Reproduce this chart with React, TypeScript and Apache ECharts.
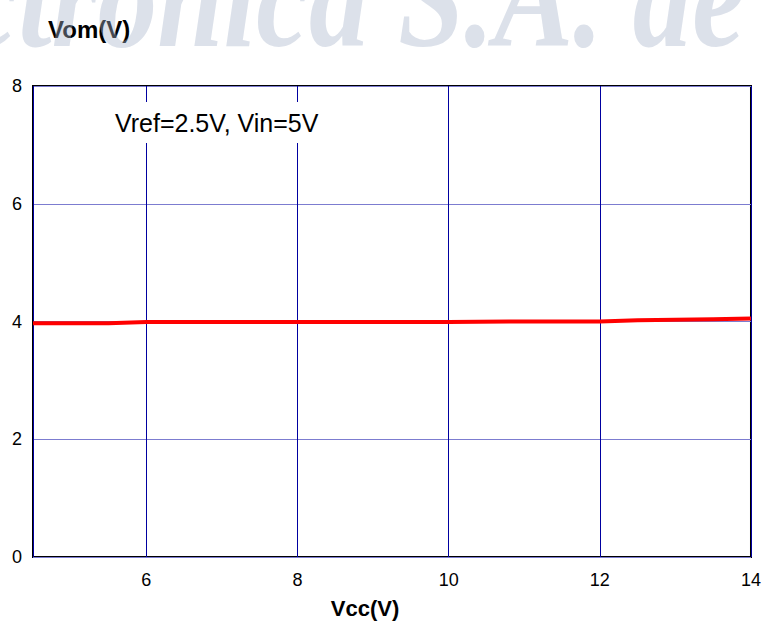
import React, { useEffect, useRef } from "react";
import * as echarts from "echarts";

const vcc = [4.5, 5.5, 6, 7, 8, 9, 10, 10.8, 12, 12.5, 13.5, 14];
const vom = [3.97, 3.97, 3.99, 3.99, 3.99, 3.99, 3.99, 4.0, 4.0, 4.02, 4.04, 4.05];
const yTicks = [0, 2, 4, 6, 8];

const xName = "Vcc(V)";
const yName = "Vom(V)";
const note = "Vref=2.5V, Vin=5V";
const watermark = "Electrónica S.A. de";

export default function App() {
  const ref = useRef<HTMLDivElement>(null);
  useEffect(() => {
    if (!ref.current) return;
    const chart = echarts.init(ref.current, null, { renderer: "svg" });
    const font = "Liberation Sans, Arial, sans-serif";
    chart.setOption({
      animation: false,
      backgroundColor: "#fff",
      grid: {
        left: 33,
        right: 13,
        top: 86,
        bottom: 66,
        show: true,
        borderColor: "#000",
        borderWidth: 2,
        backgroundColor: "transparent",
      },
      xAxis: {
        type: "value",
        min: 4.5,
        max: 14,
        splitNumber: 5,
        axisLine: { show: false },
        axisTick: { show: false },
        axisLabel: {
          showMinLabel: false,
          color: "#000",
          fontFamily: font,
          fontSize: 18,
          margin: 14,
        },
        splitLine: { show: true, lineStyle: { color: "#0000a0", width: 1 } },
      },
      yAxis: {
        type: "value",
        min: yTicks[0],
        max: yTicks[yTicks.length - 1],
        interval: 2,
        axisLine: { show: false },
        axisTick: { show: false },
        axisLabel: {
          color: "#000",
          fontFamily: font,
          fontSize: 18,
          margin: 11,
        },
        splitLine: { show: true, lineStyle: { color: "#7c7cd0", width: 1 } },
      },
      series: [
        {
          type: "line",
          data: vcc.map((x, i) => [x, vom[i]]),
          showSymbol: false,
          symbol: "none",
          lineStyle: { color: "#ff0000", width: 4 },
          z: 5,
        },
      ],
      graphic: [
        {
          type: "text",
          left: 105,
          top: 102,
          z: 10,
          style: {
            text: note,
            fill: "#000",
            font: `25px ${font}`,
            backgroundColor: "#fff",
            padding: [8, 10, 8, 10],
          },
        },
        {
          type: "text",
          x: 48,
          y: 29,
          z: 10,
          style: {
            text: yName,
            fill: "#000",
            font: `bold 24px ${font}`,
            verticalAlign: "middle",
          },
        },
        {
          type: "text",
          x: 365,
          y: 608,
          z: 10,
          style: {
            text: xName,
            fill: "#000",
            font: `bold 22px ${font}`,
            align: "center",
            verticalAlign: "middle",
          },
        },
        {
          type: "text",
          x: 745,
          y: 70,
          scaleX: 0.82,
          z: 100,
          style: {
            text: watermark,
            fill: "rgba(167,180,202,0.4)",
            font: `italic bold 145px "Liberation Serif", serif`,
            align: "right",
            verticalAlign: "bottom",
          },
        },
      ],
    });
    return () => chart.dispose();
  }, []);
  return (
    <div
      ref={ref}
      style={{ position: "absolute", left: 0, top: 0, width: 764, height: 623 }}
    />
  );
}
